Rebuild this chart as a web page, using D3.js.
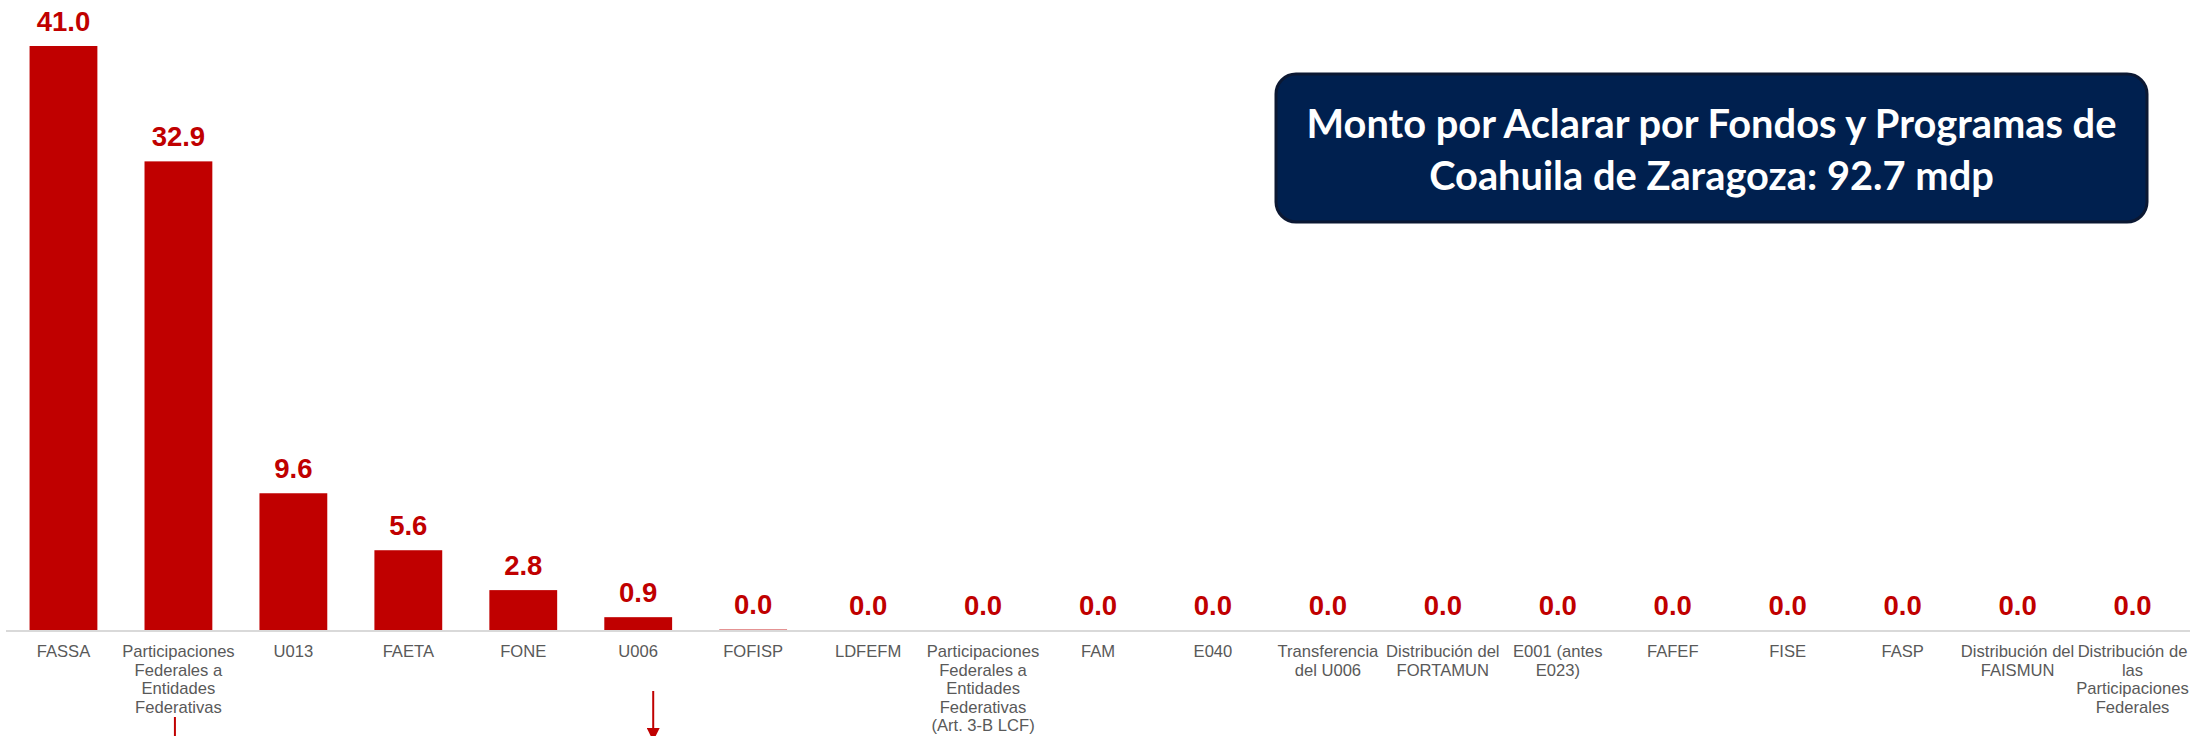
<!DOCTYPE html>
<html>
<head>
<meta charset="utf-8">
<script src="https://cdn.jsdelivr.net/npm/d3@7"></script>
<style>
  html, body { margin: 0; padding: 0; background: #fff; }
  svg { display: block; }
</style>
</head>
<body>
<div id="chart"></div>
<script>
// categorías (saltos de línea como en el original)
const categories = [
  "FASSA",
  "Participaciones\nFederales a\nEntidades\nFederativas",
  "U013",
  "FAETA",
  "FONE",
  "U006",
  "FOFISP",
  "LDFEFM",
  "Participaciones\nFederales a\nEntidades\nFederativas\n(Art. 3-B LCF)",
  "FAM",
  "E040",
  "Transferencia\ndel U006",
  "Distribución del\nFORTAMUN",
  "E001 (antes\nE023)",
  "FAFEF",
  "FISE",
  "FASP",
  "Distribución del\nFAISMUN",
  "Distribución de\nlas\nParticipaciones\nFederales"
];

// monto por aclarar (mdp)
const values = [41.0, 32.9, 9.6, 5.6, 2.8, 0.9, 0.03, 0, 0, 0, 0, 0, 0, 0, 0, 0, 0, 0, 0];

const titleLines = [
  "Monto por Aclarar por Fondos y Programas de",
  "Coahuila de Zaragoza: 92.7 mdp"
];

// categorías señaladas con flecha
const arrowCats = [1, 5];

const width = 2190, height = 736;
const red = "#c00000";

const svg = d3.select("#chart").append("svg")
  .attr("width", width)
  .attr("height", height);

const x = d3.scaleBand()
  .domain(d3.range(categories.length))
  .range([6, 2190])
  .paddingInner(0.41)
  .paddingOuter(0.205);

const y = d3.scaleLinear()
  .domain([0, 41])
  .range([630, 46]);

// barras
svg.selectAll(".bar")
  .data(values)
  .enter()
  .append("rect")
  .attr("class", "bar")
  .attr("x", (d, i) => x(i))
  .attr("y", d => y(d))
  .attr("width", x.bandwidth())
  .attr("height", d => y(0) - y(d))
  .style("fill", red);

// línea base
svg.append("line")
  .attr("x1", 6)
  .attr("x2", width)
  .attr("y1", y(0) + 1)
  .attr("y2", y(0) + 1)
  .style("stroke", "#d9d9d9")
  .style("stroke-width", 2);

// etiquetas de valor
svg.selectAll(".value")
  .data(values)
  .enter()
  .append("text")
  .attr("class", "value")
  .attr("x", (d, i) => x(i) + x.bandwidth() / 2)
  .attr("y", d => y(d) - 15.5)
  .attr("text-anchor", "middle")
  .style("font-family", "'Liberation Sans', Arial, sans-serif")
  .style("font-weight", "bold")
  .style("font-size", "27.5px")
  .style("fill", red)
  .text(d => d3.format(".1f")(d));

// etiquetas de categoría
const catLabels = svg.selectAll(".cat")
  .data(categories)
  .enter()
  .append("text")
  .attr("class", "cat")
  .attr("text-anchor", "middle")
  .style("font-family", "'Liberation Sans', Arial, sans-serif")
  .style("font-size", "16.6px")
  .style("fill", "#595959");

catLabels.each(function(d, i) {
  const t = d3.select(this);
  d.split("\n").forEach((line, k) => {
    t.append("tspan")
      .attr("x", x(i) + x.bandwidth() / 2)
      .attr("y", 657 + k * 18.5)
      .text(line);
  });
});

// flechas
svg.append("defs").append("marker")
  .attr("id", "head")
  .attr("viewBox", "0 0 10 10")
  .attr("refX", 0)
  .attr("refY", 5)
  .attr("markerWidth", 6.5)
  .attr("markerHeight", 6.5)
  .attr("markerUnits", "strokeWidth")
  .attr("orient", "auto")
  .append("path")
  .attr("d", "M0,0 L10,5 L0,10 Z")
  .style("fill", red);

const arrowSpecs = [
  {dx: -3.5, y1: 717, y2: 760},
  {dx: 15, y1: 691, y2: 728}
];
arrowCats.forEach((c, k) => {
  const s = arrowSpecs[k];
  const cx = x(c) + x.bandwidth() / 2 + s.dx;
  svg.append("line")
    .attr("x1", cx).attr("x2", cx)
    .attr("y1", s.y1).attr("y2", s.y2)
    .style("stroke", red)
    .style("stroke-width", 2)
    .attr("marker-end", "url(#head)");
});

// cuadro de título
const box = {x: 1276, y: 74, w: 871, h: 148};
svg.append("rect")
  .attr("x", box.x)
  .attr("y", box.y)
  .attr("width", box.w)
  .attr("height", box.h)
  .attr("rx", 20)
  .style("fill", "#00204f")
  .style("stroke", "#0b1833")
  .style("stroke-width", 3);

const title = svg.append("text")
  .attr("text-anchor", "middle")
  .style("font-family", "Lato, 'Open Sans', sans-serif")
  .style("font-weight", "bold")
  .style("font-size", "40px")
  .style("fill", "#fff");

titleLines.forEach((line, k) => {
  title.append("tspan")
    .attr("x", box.x + box.w / 2)
    .attr("y", 138 + k * 52)
    .text(line);
});

// ajustar el tamaño para que la primera línea mida ~810 px
const first = title.select("tspan").node();
const w0 = first.getComputedTextLength();
if (w0 > 0) title.style("font-size", (40 * 810 / w0).toFixed(1) + "px");
</script>
</body>
</html>
